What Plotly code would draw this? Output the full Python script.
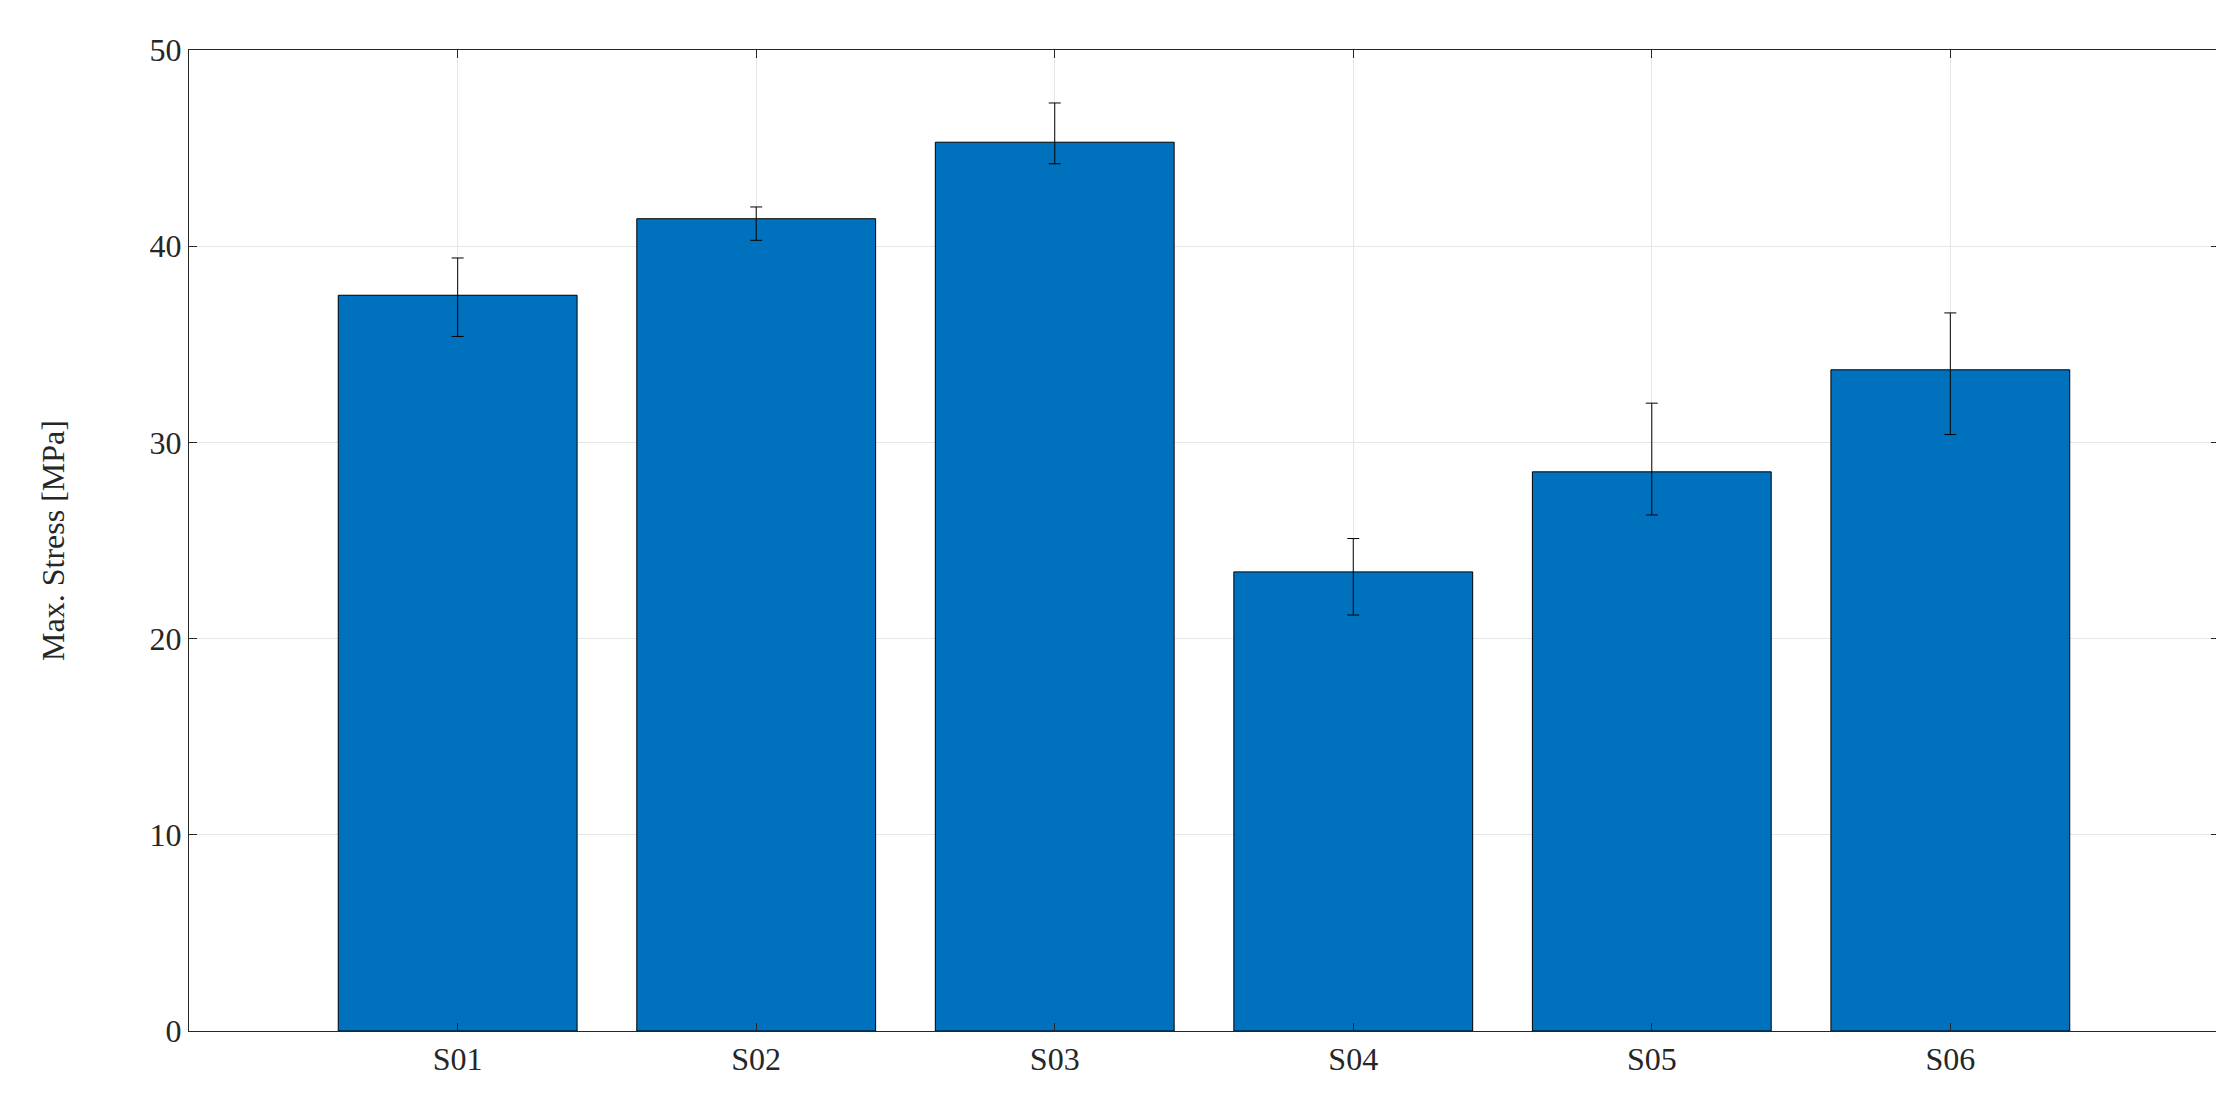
import plotly.graph_objects as go

categories = ["S01", "S02", "S03", "S04", "S05", "S06"]
values = [37.5, 41.4, 45.3, 23.4, 28.5, 33.7]
err_plus = [1.9, 0.6, 2.0, 1.7, 3.5, 2.9]
err_minus = [2.1, 1.1, 1.1, 2.2, 2.2, 3.3]

fig = go.Figure(go.Bar(
    x=list(range(len(categories))), y=values, width=0.8,
    marker=dict(color="#0072BD", line=dict(color="black", width=1)),
    error_y=dict(type="data", symmetric=False, array=err_plus, arrayminus=err_minus,
                 color="black", thickness=1, width=6),
))
axis_common = dict(showline=True, linecolor="#262626", linewidth=1, mirror="ticks",
                   ticks="inside", ticklen=8, tickcolor="#262626",
                   gridcolor="#e6e6e6", zeroline=False,
                   tickfont=dict(family="Liberation Serif", size=32, color="#262626"))
fig.update_xaxes(range=[-0.9, 5.9], tickvals=list(range(len(categories))),
                 ticktext=categories, **axis_common)
fig.update_yaxes(range=[0, 50], dtick=10, title=dict(text="Max. Stress [MPa]",
                 font=dict(family="Liberation Serif", size=32, color="#262626"), standoff=75),
                 **axis_common)
fig.update_layout(width=2224, height=1103, plot_bgcolor="white", paper_bgcolor="white",
                  margin=dict(l=181, r=13, t=42, b=80), showlegend=False)
fig.write_html("out.html")
